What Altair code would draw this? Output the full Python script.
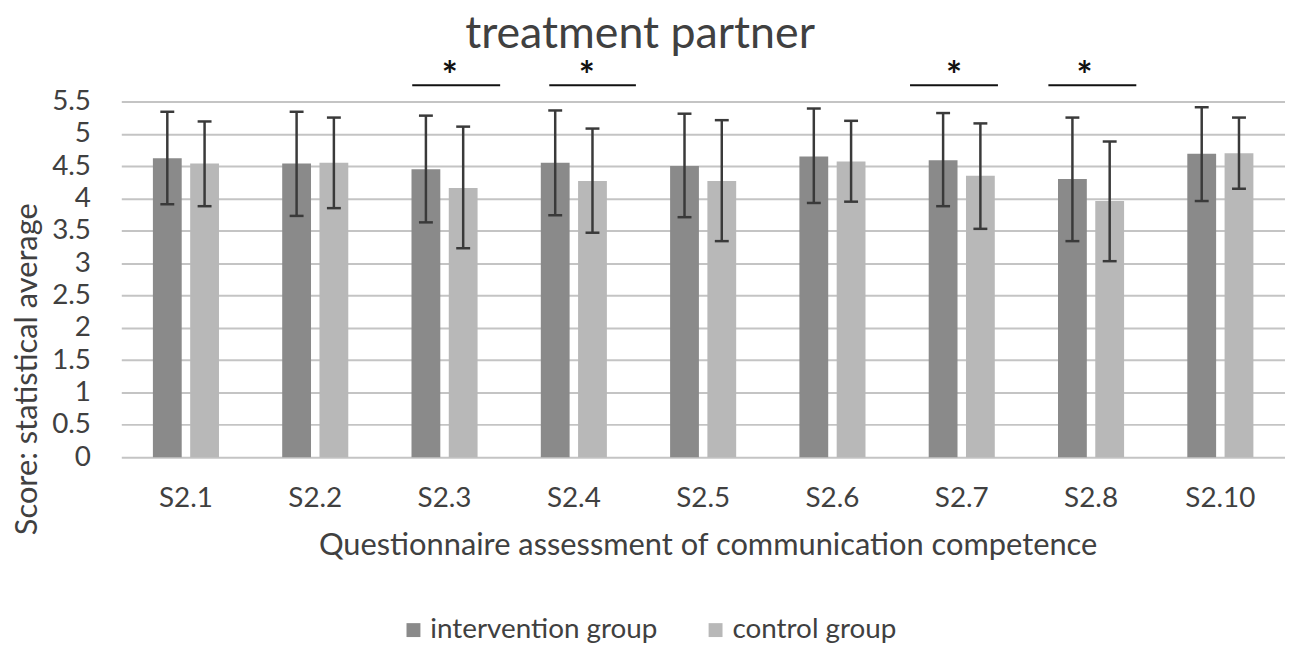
import altair as alt
import pandas as pd

# ---------------- data ----------------
categories = ["S2.1", "S2.2", "S2.3", "S2.4", "S2.5", "S2.6", "S2.7", "S2.8", "S2.10"]
groups = ["intervention group", "control group"]

intervention_mean = [4.62, 4.54, 4.45, 4.55, 4.50, 4.65, 4.59, 4.30, 4.69]
intervention_hi = [5.34, 5.34, 5.28, 5.36, 5.31, 5.39, 5.32, 5.25, 5.41]
intervention_lo = [3.91, 3.73, 3.63, 3.74, 3.71, 3.93, 3.88, 3.34, 3.96]

control_mean = [4.54, 4.55, 4.16, 4.27, 4.27, 4.57, 4.35, 3.96, 4.70]
control_hi = [5.19, 5.25, 5.11, 5.08, 5.21, 5.20, 5.16, 4.88, 5.25]
control_lo = [3.88, 3.85, 3.23, 3.47, 3.34, 3.95, 3.53, 3.03, 4.15]

significant_items = ["S2.3", "S2.4", "S2.7", "S2.8"]
significance_mark = "*"
significance_line_level = 5.75
significance_star_level = 5.86

y_ticks = [0, 0.5, 1, 1.5, 2, 2.5, 3, 3.5, 4, 4.5, 5, 5.5]

# ---------------- tables ----------------
rows = []
for i, c in enumerate(categories):
    rows.append(dict(item=c, group=groups[0], mean=intervention_mean[i],
                     lo=intervention_lo[i], hi=intervention_hi[i]))
    rows.append(dict(item=c, group=groups[1], mean=control_mean[i],
                     lo=control_lo[i], hi=control_hi[i]))
df = pd.DataFrame(rows)

sig_df = pd.DataFrame(dict(item=significant_items,
                           level=[significance_line_level] * len(significant_items),
                           star=[significance_star_level] * len(significant_items),
                           mark=[significance_mark] * len(significant_items)))

# ---------------- style ----------------
FONT = "Lato"
TXT = "#404040"
GRID = "#c4c4c4"
ERR = "#3a3a3a"
XTITLE = "Questionnaire assessment of communication competence"
YTITLE = "Score: statistical average"

# placement of the hand-drawn significance brackets inside each category band
sig_style = {
    "S2.3": (0.25, 0.93, 0.54),
    "S2.4": (0.31, 0.98, 0.60),
    "S2.7": (0.10, 0.78, 0.44),
    "S2.8": (0.17, 0.85, 0.45),
}

xscale = alt.Scale(domain=categories, paddingInner=0, paddingOuter=0)
yscale = alt.Scale(domain=[0, 5.5], nice=False, zero=True)
yaxis = alt.Axis(values=y_ticks, format=".1~f")
xo = alt.XOffset("group:N", sort=groups,
                 scale=alt.Scale(domain=groups, paddingInner=0.227, paddingOuter=0.848))

X = alt.X("item:N", sort=categories, scale=xscale, title=XTITLE)


def Y(field):
    return alt.Y(field, scale=yscale, title=YTITLE, axis=yaxis)


bars = alt.Chart(df).mark_bar().encode(
    x=X,
    xOffset=xo,
    y=Y("mean:Q"),
    color=alt.Color("group:N", sort=groups,
                    scale=alt.Scale(domain=groups, range=["#8a8a8a", "#b8b8b8"]),
                    legend=alt.Legend(orient="none", legendX=280, legendY=518,
                                      direction="horizontal", title=None,
                                      symbolType="square", symbolSize=196,
                                      symbolStrokeWidth=0, labelLimit=0,
                                      labelFont=FONT, labelFontSize=28,
                                      labelColor=TXT, labelOffset=3,
                                      columnPadding=44, padding=0)),
)

err = alt.Chart(df).mark_rule(color=ERR, strokeWidth=2.5).encode(
    x=X, xOffset=xo, y=Y("lo:Q"), y2="hi:Q",
)
cap_hi = alt.Chart(df).mark_tick(color=ERR, size=14, thickness=2.5, opacity=1).encode(
    x=X, xOffset=xo, y=Y("hi:Q"),
)
cap_lo = alt.Chart(df).mark_tick(color=ERR, size=14, thickness=2.5, opacity=1).encode(
    x=X, xOffset=xo, y=Y("lo:Q"),
)

layers = [bars, err, cap_hi, cap_lo]
for item in significant_items:
    b0, b1, bs = sig_style[item]
    src = alt.Chart(sig_df).transform_filter(alt.datum.item == item)
    layers.append(src.mark_rule(color="#111111", strokeWidth=2, clip=False).encode(
        x=alt.X("item:N", sort=categories, scale=xscale, title=XTITLE, bandPosition=b0),
        x2=alt.X2("item:N", bandPosition=b1),
        y=Y("level:Q"),
    ))
    layers.append(src.mark_text(color="#111111", font=FONT, fontSize=38,
                                fontWeight="bold", baseline="middle",
                                align="center", clip=False).encode(
        x=alt.X("item:N", sort=categories, scale=xscale, title=XTITLE, bandPosition=bs),
        y=Y("star:Q"),
        text="mark:N",
    ))

chart = alt.layer(*layers).properties(
    width=1171, height=358,
    padding={"left": 114, "top": 92, "right": 0, "bottom": 186},
    autosize=alt.AutoSizeParams(type="none"),
    title=alt.TitleParams("treatment partner", font=FONT, fontSize=45, color=TXT,
                          fontWeight="normal", anchor="middle", frame="group",
                          dx=-63.5, dy=40, offset=6, baseline="alphabetic"),
).configure_view(stroke=None).configure_axisY(
    grid=True, gridColor=GRID, gridWidth=2, domain=False, ticks=False, tickSize=0,
    labelPadding=31, labelFont=FONT, labelFontSize=28, labelColor=TXT,
    titleFont=FONT, titleFontSize=31, titleColor=TXT, titleFontWeight="normal",
    titleX=-85, titleY=269, titleAngle=-90, titleBaseline="alphabetic", titleAlign="center",
).configure_axisX(
    grid=False, domain=False, ticks=False, tickSize=0, labelAngle=0,
    labelPadding=50, labelBaseline="alphabetic", labelFont=FONT, labelFontSize=28,
    labelColor=TXT, titleFont=FONT, titleFontSize=31, titleColor=TXT,
    titleFontWeight="normal", titleX=590, titleY=98, titleBaseline="alphabetic",
    titleAlign="center",
)

chart.save("out.html", embed_options={"renderer": "svg", "actions": False})
